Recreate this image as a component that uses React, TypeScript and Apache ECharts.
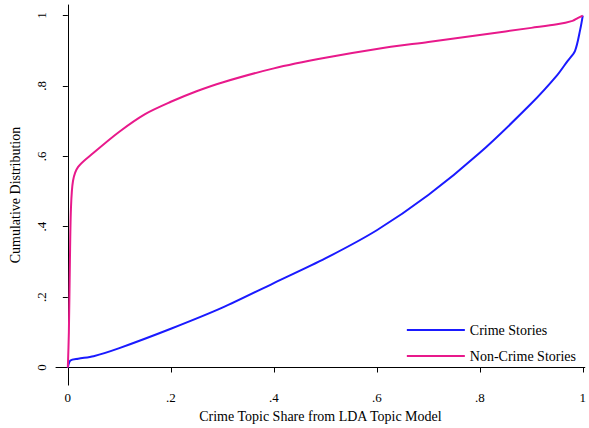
import React, { useEffect, useRef } from "react";
import * as echarts from "echarts";

const crimeX = [0, 0.005, 0.02, 0.05, 0.1, 0.2, 0.3, 0.4, 0.5, 0.6, 0.7, 0.8, 0.9, 0.95, 0.97, 0.985, 0.995, 1];
const crimeY = [0, 0.02, 0.025, 0.032, 0.055, 0.11, 0.17, 0.24, 0.31, 0.39, 0.49, 0.61, 0.75, 0.83, 0.87, 0.9, 0.96, 1];
const nonX = [0, 0.002, 0.004, 0.006, 0.01, 0.02, 0.05, 0.1, 0.15, 0.2, 0.25, 0.3, 0.4, 0.5, 0.6, 0.7, 0.8, 0.9, 0.95, 0.98, 0.99, 1];
const nonY = [0, 0.1, 0.3, 0.45, 0.53, 0.57, 0.61, 0.67, 0.72, 0.755, 0.785, 0.81, 0.85, 0.88, 0.905, 0.925, 0.945, 0.965, 0.975, 0.985, 0.993, 1];
const ticks = [0, 0.2, 0.4, 0.6, 0.8, 1];
const fmt = (v: number) => (v === 0 ? "0" : v === 1 ? "1" : String(+v.toFixed(1)).replace("0.", "."));

export default function App() {
  const ref = useRef<HTMLDivElement>(null);
  useEffect(() => {
    const chart = echarts.init(ref.current!, null, { renderer: "svg" });
    const font = "Liberation Serif";
    chart.setOption({
      animation: false,
      textStyle: { fontFamily: font },
      grid: { left: 52, right: 0, top: 5, bottom: 38 },
      legend: {
        right: 8, bottom: 60, orient: "vertical", icon: "rect", itemWidth: 58, itemHeight: 2, itemGap: 12,
        textStyle: { fontFamily: font, fontSize: 14, color: "#000" },
        data: ["Crime Stories", "Non-Crime Stories"],
      },
      xAxis: {
        type: "value", min: -0.023, max: 1.004, name: "Crime Topic Share from LDA Topic Model",
        nameLocation: "middle", nameGap: 22, nameTextStyle: { fontFamily: font, fontSize: 14, color: "#000" },
        splitLine: { show: false },
        axisLine: { lineStyle: { color: "#000" } },
        axisTick: { customValues: ticks, lineStyle: { color: "#000" }, length: 5 },
        axisLabel: { customValues: ticks, formatter: fmt, color: "#000", fontSize: 13, margin: 6 },
      },
      yAxis: {
        type: "value", min: -0.05, max: 1.03, name: "Cumulative Distribution",
        nameLocation: "middle", nameGap: 34, nameTextStyle: { fontFamily: font, fontSize: 14, color: "#000" },
        splitLine: { show: false },
        axisLine: { show: true, lineStyle: { color: "#000" } },
        axisTick: { show: true, customValues: ticks, lineStyle: { color: "#000" }, length: 5 },
        axisLabel: { customValues: ticks, formatter: fmt, color: "#000", fontSize: 13, rotate: 90, margin: 8 },
      },
      series: [
        { name: "Crime Stories", type: "line", smooth: 0.3, showSymbol: false, lineStyle: { color: "#1a1aff", width: 2 }, itemStyle: { color: "#1a1aff" }, data: crimeX.map((x, i) => [x, crimeY[i]]) },
        { name: "Non-Crime Stories", type: "line", smooth: 0.3, showSymbol: false, lineStyle: { color: "#e8198b", width: 2 }, itemStyle: { color: "#e8198b" }, data: nonX.map((x, i) => [x, nonY[i]]) },
      ],
    });
    return () => chart.dispose();
  }, []);
  return <div ref={ref} style={{ width: 589, height: 428, position: "absolute", left: 0, top: 0, background: "#fff" }} />;
}
